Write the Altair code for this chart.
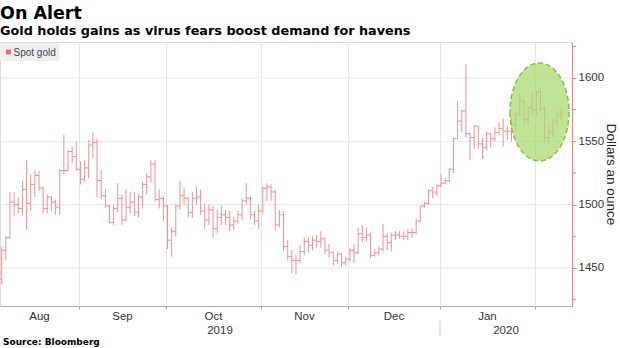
import altair as alt
import pandas as pd

title_text = "On Alert"
subtitle_text = "Gold holds gains as virus fears boost demand for havens"
series_name = "Spot gold"
source_text = "Source: Bloomberg"
y_title = "Dollars an ounce"

# trading days (weekdays) Aug 5 2019 .. Feb 10 2020
dates = pd.bdate_range("2019-08-05", "2020-02-10")

opens = [
    # Aug
    1441, 1464, 1474, 1502, 1500, 1497, 1512, 1501, 1516, 1523, 1513, 1497, 1506, 1502, 1498, 1527, 1527, 1542, 1538, 1528,
    # Sep
    1520, 1529, 1547, 1549, 1519, 1507, 1499, 1486, 1497, 1505, 1488, 1498, 1502, 1494, 1506, 1516, 1522, 1532, 1504, 1505, 1499,
    # Oct
    1472, 1479, 1499, 1507, 1505, 1494, 1505, 1506, 1495, 1488, 1496, 1481, 1490, 1492, 1490, 1484, 1487, 1492, 1503, 1505, 1492, 1487, 1495,
    # Nov
    1513, 1514, 1510, 1484, 1492, 1467, 1459, 1456, 1456, 1463, 1471, 1468, 1472, 1471, 1473, 1464, 1462, 1456, 1461, 1454, 1457,
    # Dec
    1464, 1462, 1477, 1474, 1476, 1460, 1462, 1465, 1475, 1470, 1476, 1476, 1475, 1475, 1478, 1478, 1487, 1499, 1501, 1511, 1510, 1515,
    # Jan
    1517, 1519, 1528, 1552, 1566, 1574, 1556, 1553, 1562, 1548, 1545, 1556, 1552, 1557, 1560, 1558, 1558, 1563, 1571, 1582, 1567, 1577, 1575,
    # Feb
    1589, 1576, 1553, 1557, 1566, 1570,
]
highs = [
    1467, 1475, 1510, 1510, 1506, 1519, 1535, 1524, 1527, 1527, 1514, 1508, 1507, 1504, 1528, 1555, 1543, 1546, 1550, 1534,
    1535, 1551, 1557, 1552, 1527, 1512, 1500, 1500, 1517, 1508, 1512, 1510, 1510, 1508, 1518, 1525, 1535, 1535, 1512, 1507, 1500,
    1482, 1500, 1519, 1513, 1506, 1510, 1514, 1512, 1501, 1500, 1499, 1496, 1499, 1496, 1495, 1490, 1495, 1505, 1517, 1507, 1495, 1500, 1514,
    1517, 1516, 1512, 1496, 1495, 1472, 1464, 1461, 1468, 1474, 1474, 1475, 1476, 1479, 1474, 1469, 1463, 1463, 1462, 1459, 1466,
    1469, 1482, 1484, 1482, 1478, 1465, 1467, 1485, 1477, 1478, 1479, 1479, 1479, 1481, 1481, 1489, 1499, 1502, 1512, 1514, 1516, 1524,
    1521, 1529, 1553, 1582, 1575, 1611, 1557, 1563, 1562, 1553, 1558, 1557, 1561, 1565, 1568, 1562, 1569, 1573, 1588, 1583, 1577, 1589, 1590,
    1592, 1578, 1562, 1568, 1574, 1576,
]
lows = [
    1437, 1456, 1474, 1491, 1493, 1491, 1480, 1495, 1506, 1511, 1493, 1493, 1495, 1492, 1492, 1524, 1526, 1533, 1527, 1516,
    1518, 1521, 1537, 1506, 1504, 1498, 1485, 1484, 1494, 1484, 1487, 1493, 1491, 1490, 1497, 1508, 1517, 1503, 1497, 1487, 1465,
    1459, 1475, 1496, 1500, 1490, 1490, 1500, 1492, 1481, 1484, 1474, 1477, 1484, 1484, 1479, 1480, 1485, 1488, 1500, 1488, 1484, 1481, 1493,
    1503, 1503, 1480, 1482, 1464, 1456, 1446, 1445, 1454, 1460, 1462, 1464, 1466, 1466, 1461, 1458, 1452, 1453, 1451, 1452, 1455,
    1454, 1461, 1470, 1471, 1458, 1459, 1460, 1463, 1464, 1463, 1472, 1473, 1472, 1472, 1474, 1477, 1486, 1498, 1500, 1505, 1507, 1514,
    1516, 1518, 1525, 1552, 1557, 1553, 1535, 1544, 1544, 1536, 1543, 1545, 1550, 1555, 1546, 1551, 1550, 1558, 1570, 1563, 1563, 1571, 1571,
    1574, 1549, 1548, 1553, 1561, 1566,
]
closes = [
    1464, 1474, 1502, 1500, 1497, 1512, 1501, 1516, 1523, 1513, 1497, 1506, 1502, 1498, 1527, 1527, 1542, 1538, 1528, 1520,
    1529, 1547, 1549, 1519, 1507, 1499, 1486, 1497, 1505, 1488, 1498, 1502, 1494, 1506, 1516, 1522, 1532, 1504, 1505, 1499, 1472,
    1479, 1499, 1507, 1505, 1494, 1505, 1506, 1495, 1488, 1496, 1481, 1490, 1492, 1490, 1484, 1487, 1492, 1503, 1505, 1492, 1487, 1495, 1513,
    1514, 1510, 1484, 1492, 1467, 1459, 1456, 1456, 1463, 1471, 1468, 1472, 1471, 1473, 1464, 1462, 1456, 1461, 1454, 1457, 1464,
    1462, 1477, 1474, 1476, 1460, 1462, 1465, 1475, 1470, 1476, 1476, 1475, 1475, 1478, 1478, 1487, 1499, 1501, 1511, 1510, 1515, 1517,
    1519, 1528, 1552, 1566, 1574, 1556, 1553, 1562, 1548, 1545, 1556, 1552, 1557, 1560, 1558, 1558, 1563, 1571, 1582, 1567, 1577, 1575, 1589,
    1576, 1553, 1557, 1566, 1570, 1572,
]

month_labels = ["Aug", "Sep", "Oct", "Nov", "Dec", "Jan"]
year_labels = ["2019", "2020"]
# month boundaries, in trading-day index units
month_breaks = [18.65, 39.65, 62.55, 83.55, 105.75, 128.65]
x_domain = [-0.41, 137.6]
y_domain = [1420, 1628.4]
y_major = [1450, 1500, 1550, 1600]
y_minor = [1425, 1475, 1525, 1575, 1625]
# highlighted region (centre of the ellipse), index / dollars
highlight_i = [129.75]
highlight_v = [1573.2]

n = len(dates)
df = pd.DataFrame({
    "i": list(range(n)),
    "date": dates.strftime("%Y-%m-%d"),
    "open": opens[:n], "high": highs[:n], "low": lows[:n], "close": closes[:n],
})

starts = [x_domain[0]] + month_breaks
month_df = pd.DataFrame({
    "i": [(starts[k] + starts[k + 1]) / 2 for k in range(len(month_labels))],
    "t": month_labels,
})
year_df = pd.DataFrame({
    "i": [(x_domain[0] + month_breaks[4]) / 2, (month_breaks[4] + x_domain[1]) / 2],
    "t": year_labels,
})
sep_df = pd.DataFrame({"i": [month_breaks[4]]})
grid_df = pd.DataFrame({"v": y_major})
minor_df = pd.DataFrame({"v": y_minor})
hl_df = pd.DataFrame({"i": highlight_i, "v": highlight_v})
one = pd.DataFrame({"a": [0]})

BAR = "#f09090"
AXIS_RED = "#f08080"
FONT = "Liberation Sans, Arial, sans-serif"

xs = alt.Scale(domain=x_domain, nice=False, zero=False)
ys = alt.Scale(domain=y_domain, nice=False, zero=False)

grid = alt.Chart(grid_df).mark_rule(color="#e6e6e6", strokeWidth=1).encode(
    x=alt.value(0), x2=alt.value(572),
    y=alt.Y("v:Q", scale=ys, axis=alt.Axis(
        orient="right", values=y_major, grid=False, title=y_title,
        format="d", labelOverlap=False,
        domainColor=AXIS_RED, tickColor=AXIS_RED, tickSize=4,
        labelFont=FONT, labelFontSize=11.5, labelColor="#333", labelPadding=2,
        titleFont=FONT, titleFontSize=13.5, titleFontWeight="normal", titleColor="#222",
        titleAngle=90, titleAlign="center", titleBaseline="middle",
        titleX=38.5, titleY=132,
    )),
)
minor_ticks = alt.Chart(minor_df).mark_rule(color=AXIS_RED, strokeWidth=1).encode(
    x=alt.value(572), x2=alt.value(576), y=alt.Y("v:Q"),
)

wick = alt.Chart(df).mark_rule(color=BAR, strokeWidth=1).encode(
    x=alt.X("i:Q", scale=xs, axis=alt.Axis(
        values=month_breaks, labels=False, grid=True, gridColor="#e6e6e6",
        tickSize=3, tickColor="#aaa", domainColor="#aaa", title=None,
    )),
    y=alt.Y("low:Q", scale=ys),
    y2="high:Q",
)
open_tick = alt.Chart(df).mark_rule(color=BAR, strokeWidth=1, xOffset=-2.2).encode(
    x=alt.X("i:Q"), x2="i:Q", y=alt.Y("open:Q"),
)
close_tick = alt.Chart(df).mark_rule(color=BAR, strokeWidth=1, x2Offset=2.2).encode(
    x=alt.X("i:Q"), x2="i:Q", y=alt.Y("close:Q"),
)

ellipse_path = "M -0.602 0 A 0.602 1 0 1 0 0.602 0 A 0.602 1 0 1 0 -0.602 0 Z"
ellipse = alt.Chart(hl_df).mark_point(
    shape=ellipse_path, size=9604, filled=True, fill="#a9d86c", fillOpacity=0.72,
    stroke="#86c043", strokeWidth=1.5, strokeDash=[5, 3], opacity=1,
).encode(x=alt.X("i:Q"), y=alt.Y("v:Q"))

month_text = alt.Chart(month_df).mark_text(
    font=FONT, fontSize=11.5, color="#333", baseline="alphabetic", align="center",
).encode(x=alt.X("i:Q"), y=alt.value(278), text="t:N")
year_text = alt.Chart(year_df).mark_text(
    font=FONT, fontSize=11.5, color="#333", baseline="alphabetic", align="center",
).encode(x=alt.X("i:Q"), y=alt.value(292), text="t:N")
year_sep = alt.Chart(sep_df).mark_rule(color="#cccccc", strokeWidth=1).encode(
    x=alt.X("i:Q"), y=alt.value(279), y2=alt.value(294),
)

title = alt.Chart(one).mark_text(
    font="DejaVu Sans", fontWeight="bold", fontSize=17.5, color="#000", align="left", baseline="alphabetic",
).encode(x=alt.value(0), y=alt.value(-23.5), text=alt.value(title_text))
subtitle = alt.Chart(one).mark_text(
    font="DejaVu Sans", fontWeight="bold", fontSize=12.8, color="#000", align="left", baseline="alphabetic",
).encode(x=alt.value(0), y=alt.value(-7), text=alt.value(subtitle_text))
source = alt.Chart(one).mark_text(
    font="DejaVu Sans", fontWeight="bold", fontSize=9, color="#000", align="left", baseline="alphabetic",
).encode(x=alt.value(3), y=alt.value(303), text=alt.value(source_text))

legend_box = alt.Chart(one).mark_rect(color="#efefef").encode(
    x=alt.value(0), x2=alt.value(59), y=alt.value(1), y2=alt.value(19),
)
legend_sq = alt.Chart(one).mark_rect(color="#f07070").encode(
    x=alt.value(6), x2=alt.value(11), y=alt.value(7.5), y2=alt.value(12.5),
)
legend_txt = alt.Chart(one).mark_text(
    font=FONT, fontSize=10, color="#444", align="left", baseline="alphabetic",
).encode(x=alt.value(13.5), y=alt.value(14), text=alt.value(series_name))

chart = alt.layer(
    grid, minor_ticks, wick, open_tick, close_tick, ellipse,
    month_text, year_text, year_sep, title, subtitle, source,
    legend_box, legend_sq, legend_txt,
).properties(
    width=572, height=264,
    autosize=alt.AutoSizeParams(type="none"),
    padding={"left": 0, "top": 42, "right": 48, "bottom": 42},
).configure_view(stroke=None).configure(background="white")

chart.save("out.html", embed_options={"renderer": "svg", "actions": False})
